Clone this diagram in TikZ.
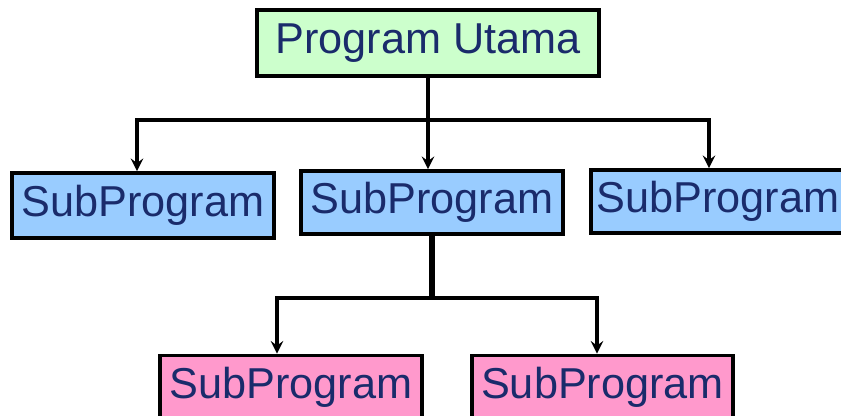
\documentclass[tikz,border=0pt]{standalone}
\usepackage{fontspec}
\setmainfont{Liberation Sans}
\usetikzlibrary{positioning}
\definecolor{chuxanh}{HTML}{1A2B6B}
\definecolor{nenluc}{HTML}{CCFFCC}
\definecolor{nenlam}{HTML}{99CCFF}
\definecolor{nenhong}{HTML}{FF99CC}
\begin{document}
\begin{tikzpicture}[>=stealth,
    hop/.style={draw=black, line width=2.2pt, text=chuxanh, inner sep=0pt,
        font=\fontsize{24.6}{29}\selectfont, minimum height=1.28cm},
    noi/.style={line width=2.1pt}]
        \useasboundingbox (0,0) rectangle (16.82,8.30);

        % Chương trình chính
        \node[hop, fill=nenluc, minimum width=6.84cm, minimum height=1.32cm] (chinh) at (8.56,7.44) {Program Utama};

        % Ba chương trình con hàng giữa
        \node[hop, fill=nenlam, minimum width=5.24cm, minimum height=1.30cm] (contrai) at (2.86,4.19) {SubProgram};
        \node[hop, fill=nenlam, minimum width=5.24cm, minimum height=1.26cm] (congiua) at (8.64,4.25) {SubProgram};
        \node[hop, fill=nenlam, minimum width=5.08cm, minimum height=1.26cm] (conphai) at (14.36,4.27) {SubProgram};

        % Hai chương trình con hàng dưới
        \node[hop, fill=nenhong, minimum width=5.24cm] (chautrai) at (5.82,0.55) {SubProgram};
        \node[hop, fill=nenhong, minimum width=5.22cm] (chauphai) at (12.05,0.55) {SubProgram};

        % Đường nối từ chương trình chính
        \coordinate (re1) at (chinh.south |- 0,5.90);
        \draw[noi] (chinh.south) -- (re1);
        \draw[noi, ->] (re1) -| ([xshift=-0.12cm]contrai.north);
        \draw[noi, ->] (re1) -| ([xshift=-0.18cm]conphai.north);
        \draw[noi, ->] (re1) -- (re1 |- congiua.north);

        % Đường nối xuống hàng dưới
        \coordinate (re2) at (congiua.south |- 0,2.34);
        \draw[line width=3.4pt] (congiua.south) -- (re2);
        \draw[noi, ->] (re2) -| ([xshift=-0.28cm]chautrai.north);
        \draw[noi, ->] (re2) -| ([xshift=-0.11cm]chauphai.north);
    \end{tikzpicture}
\end{document}
